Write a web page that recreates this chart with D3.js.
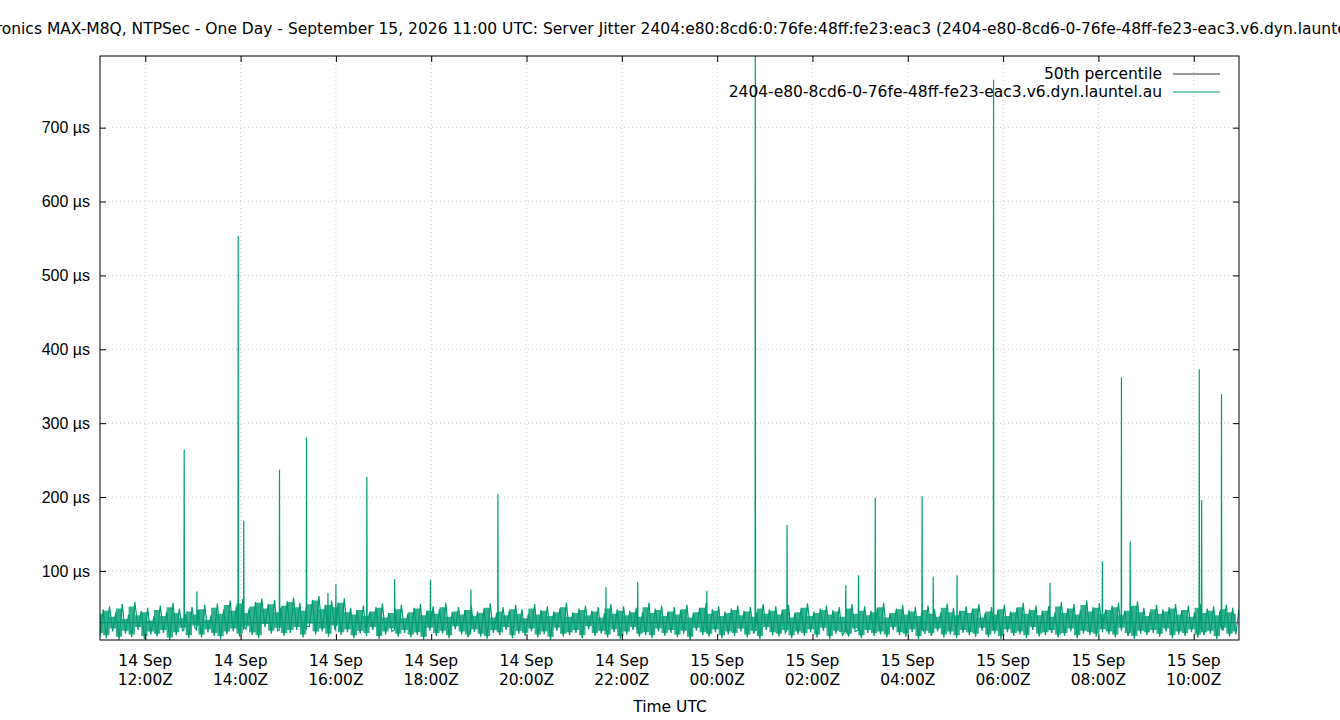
<!DOCTYPE html>
<html><head><meta charset="utf-8">
<script src="https://cdn.jsdelivr.net/npm/d3@7"></script>
<style>body{margin:0;background:#fff}svg{font-family:"DejaVu Sans",sans-serif}</style>
</head><body><svg id="c" width="1340" height="720"></svg>
<script>
const title = "Uputronics MAX-M8Q, NTPSec - One Day - September 15, 2026 11:00 UTC: Server Jitter 2404:e80:8cd6:0:76fe:48ff:fe23:eac3 (2404-e80-8cd6-0-76fe-48ff-fe23-eac3.v6.dyn.launtel.au)";
const seriesName = "2404-e80-8cd6-0-76fe-48ff-fe23-eac3.v6.dyn.launtel.au";
const startTime = "2026-09-14T11:03:00Z";
const endTime = "2026-09-15T10:57:00Z";
const yTicks = [100,200,300,400,500,600,700];
const medianValue = 30;
// noise band values (µs), evenly spaced over the day
const noiseValues = (
"12 48 9 52 18 44 7 55 15 41 10 58 20 46 8 50 14 39 11 53 "+
"16 45 6 57 13 49 19 42 9 51 22 47 10 54 17 40 12 56 8 48 "+
"14 60 18 52 11 62 21 49 13 58 9 63 24 55 15 61 19 50 12 59 "+
"16 64 20 57 10 52 25 61 14 66 18 54 11 60 22 57 13 63 17 50 "+
"9 47 15 53 12 45 20 51 8 56 14 43 18 49 11 54 16 42 10 50 "+
"13 55 7 46 19 52 12 48 15 57 9 44 21 51 14 47 10 53 17 45 "+
"11 49 8 56 16 43 13 51 20 46 9 54 15 48 12 42 18 55 10 47 "+
"14 52 7 45 19 50 11 57 13 44 16 49 9 53 21 46 12 51 15 43 "+
"10 55 17 48 8 52 14 46 20 50 11 44 13 57 9 49 18 53 12 45 "+
"16 51 10 47 15 54 7 43 19 50 13 56 11 48 17 52 9 45 14 49 "+
"12 53 18 46 10 51 15 44 8 55 20 48 13 52 11 47 16 54 9 43 "+
"14 50 12 56 17 45 10 49 19 53 8 47 15 51 13 44 11 55 18 48 "+
"9 52 16 46 12 50 14 57 10 43 20 49 13 54 11 47 17 51 8 45 "+
"15 53 12 48 18 44 10 56 14 50 9 46 16 52 13 49 11 55 19 43 "+
"10 51 15 47 8 54 17 45 12 50 14 57 9 48 20 53 11 46 13 52 "+
"16 44 10 58 12 49 18 55 9 47 15 60 13 51 11 56 17 48 14 53 "+
"10 57 19 46 12 52 8 59 15 50 13 45 16 54 11 48 18 51 9 55 "+
"14 47 12 53 17 44 10 56 13 49 15 52 8 46 19 54 11 50 14 48"
).trim().split(/\s+/).map(Number);
// spikes: time, value (µs)
const spikeTimes = ["2026-09-14T12:49Z","2026-09-14T13:05Z","2026-09-14T13:57Z","2026-09-14T14:04Z","2026-09-14T14:49Z","2026-09-14T15:23Z","2026-09-14T15:50Z","2026-09-14T16:00Z","2026-09-14T16:39Z","2026-09-14T17:14Z","2026-09-14T17:59Z","2026-09-14T18:50Z","2026-09-14T19:24Z","2026-09-14T21:40Z","2026-09-14T22:20Z","2026-09-14T23:47Z","2026-09-15T00:48Z","2026-09-15T01:28Z","2026-09-15T02:42Z","2026-09-15T02:58Z","2026-09-15T03:19Z","2026-09-15T04:18Z","2026-09-15T04:32Z","2026-09-15T05:02Z","2026-09-15T05:48Z","2026-09-15T06:59Z","2026-09-15T08:05Z","2026-09-15T08:29Z","2026-09-15T08:40Z","2026-09-15T10:07Z","2026-09-15T10:10Z","2026-09-15T10:35Z"];
const spikeValues = [264,72,553,168,237,281,70,82,227,89,88,75,204,78,85,73,800,162,81,94,199,201,92,94,765,84,113,362,140,373,196,339];

const W=1340,H=720,m={l:100,r:101,t:56,b:80};
const svg=d3.select("#c");
const x=d3.scaleUtc().domain([new Date(startTime),new Date(endTime)]).range([m.l,W-m.r]);
const y=d3.scaleLinear().domain([6.5,797]).range([H-m.b,m.t]);
const t0=+new Date(startTime),t1=+new Date(endTime);
const pts=noiseValues.map((v,i)=>({t:new Date(t0+(t1-t0)*i/(noiseValues.length-1)),v}));
// band envelope: consecutive (low, high) pairs
const band=[];
for(let i=0;i+1<noiseValues.length;i+=2){band.push({t:pts[i].t,lo:Math.min(noiseValues[i],noiseValues[i+1]),hi:Math.max(noiseValues[i],noiseValues[i+1])});}
const line=pts.slice();
spikeTimes.forEach((s,i)=>{const t=new Date(s);line.push({t:new Date(+t-20000),v:20},{t,v:spikeValues[i]},{t:new Date(+t+20000),v:25});});
line.sort((a,b)=>a.t-b.t);
const xt=d3.range(0,12).map(i=>new Date(Date.UTC(2026,8,14,12+2*i)));
const g=svg.append("g");
g.selectAll(".gx").data(xt).join("line").attr("x1",d=>x(d)).attr("x2",d=>x(d)).attr("y1",m.t).attr("y2",H-m.b).attr("stroke","#ccc").attr("stroke-dasharray","1,3");
g.selectAll(".gy").data(yTicks).join("line").attr("x1",m.l).attr("x2",W-m.r).attr("y1",d=>y(d)).attr("y2",d=>y(d)).attr("stroke","#ccc").attr("stroke-dasharray","1,3");
svg.append("clipPath").attr("id","cp").append("rect").attr("x",m.l).attr("y",m.t).attr("width",W-m.l-m.r).attr("height",H-m.t-m.b);
svg.append("line").attr("x1",m.l).attr("x2",W-m.r).attr("y1",y(medianValue)).attr("y2",y(medianValue)).attr("stroke","#333").attr("stroke-width",1);
svg.append("path").datum(band).attr("clip-path","url(#cp)").attr("fill","#009e73").attr("opacity",0.8)
 .attr("d",d3.area().curve(d3.curveStep).x(d=>x(d.t)).y0(d=>y(d.lo+4)).y1(d=>y(d.hi-6)));
svg.append("path").datum(line).attr("clip-path","url(#cp)").attr("fill","none").attr("stroke","#009e73").attr("stroke-width",1.2)
 .attr("d",d3.line().x(d=>x(d.t)).y(d=>y(d.v)));
svg.append("rect").attr("x",m.l).attr("y",m.t).attr("width",W-m.l-m.r).attr("height",H-m.t-m.b).attr("fill","none").attr("stroke","#000");
const ya=svg.append("g").attr("transform",`translate(${m.l},0)`).call(d3.axisLeft(y).tickValues(yTicks).tickSize(-6).tickFormat(d=>d+" µs"));
ya.select(".domain").remove();ya.selectAll("text").attr("font-size",16).attr("fill","#000").attr("x",-10);
svg.append("g").attr("transform",`translate(${W-m.r},0)`).call(d3.axisRight(y).tickValues(yTicks).tickSize(-6).tickFormat("")).select(".domain").remove();
const fmt=d3.utcFormat("%H:%MZ");
svg.append("g").attr("transform",`translate(0,${H-m.b})`).call(d3.axisBottom(x).tickValues(xt).tickSize(-6).tickFormat("")).select(".domain").remove();
svg.append("g").attr("transform",`translate(0,${m.t})`).call(d3.axisTop(x).tickValues(xt).tickSize(-6).tickFormat("")).select(".domain").remove();
xt.forEach(d=>{const t=svg.append("text").attr("text-anchor","middle").attr("font-size",15.5).attr("x",x(d));
 t.append("tspan").attr("x",x(d)).attr("y",666).text(d3.utcFormat("%d %b")(d));
 t.append("tspan").attr("x",x(d)).attr("y",685).text(fmt(d));});
svg.append("text").attr("x",670).attr("y",712).attr("text-anchor","middle").attr("font-size",15.5).text("Time UTC");
svg.append("text").attr("x",670).attr("y",34).attr("text-anchor","middle").attr("font-size",15.5).text(title);
const lg=[["50th percentile","#333"],[seriesName,"#009e73"]];
lg.forEach((d,i)=>{svg.append("text").attr("x",1162).attr("y",79+i*18).attr("text-anchor","end").attr("font-size",15.5).text(d[0]);
 svg.append("line").attr("x1",1173).attr("x2",1220).attr("y1",74+i*18).attr("y2",74+i*18).attr("stroke",d[1]);});
</script></body></html>
